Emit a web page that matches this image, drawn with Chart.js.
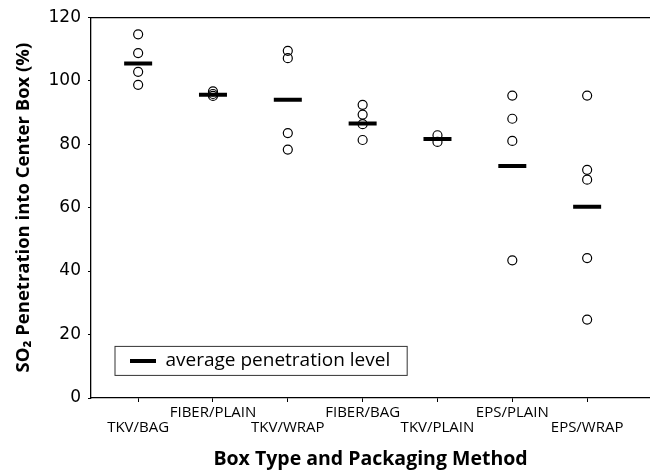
<!DOCTYPE html>
<html>
	<head>
		<meta charset="UTF-8" />
		<title>SO2 penetration into center box</title>
		<style type="text/css">
			body { margin: 0; background: #fff; }
			.chartBox { width: 650px; height: 471px; }
		</style>
	</head>
	<body>
		<div class="chartBox">
			<canvas id="myChart"></canvas>
		</div>
		<script src="https://cdn.jsdelivr.net/npm/chart.js"></script>
		<script>
			//data
			const categories = ['TKV/BAG', 'FIBER/PLAIN', 'TKV/WRAP', 'FIBER/BAG', 'TKV/PLAIN', 'EPS/PLAIN', 'EPS/WRAP'];
			const tkvBag = [114.6, 108.7, 102.8, 98.7];
			const fiberPlain = [96.6, 95.8, 95.2];
			const tkvWrap = [109.4, 107.1, 83.5, 78.3];
			const fiberBag = [92.4, 89.3, 86.3, 81.3];
			const tkvPlain = [82.8, 80.7];
			const epsPlain = [95.3, 88.0, 81.0, 43.4];
			const epsWrap = [95.3, 71.9, 68.8, 44.1, 24.7];
			const averages = [105.4, 95.6, 94.0, 86.5, 81.6, 73.1, 60.3];
			const groups = [tkvBag, fiberPlain, tkvWrap, fiberBag, tkvPlain, epsPlain, epsWrap];

			//setup
			const samplePoints = [];
			groups.forEach((vals, i) => {
				vals.forEach(v => samplePoints.push({x: i + 1, y: v}));
			});
			const averagePoints = averages.map((v, i) => ({x: i + 1, y: v}));

			const data = {
				datasets: [{
					label: 'samples',
					data: samplePoints,
					pointRadius: 4.5,
					pointHoverRadius: 4.5,
					pointBorderWidth: 1.2,
					pointBorderColor: '#000',
					pointBackgroundColor: 'rgba(0,0,0,0)',
					showLine: false,
					order: 0
				}, {
					label: 'average penetration level',
					data: averagePoints,
					pointStyle: 'line',
					pointRadius: 14,
					pointHoverRadius: 14,
					pointBorderWidth: 4,
					pointBorderColor: '#000',
					borderColor: '#000',
					backgroundColor: '#000',
					showLine: false,
					order: 1
				}]
			};

			//frame round the legend entry
			const legendFrame = {
				id: 'legendFrame',
				afterDraw(chart) {
					const box = chart.legend.legendHitBoxes[0];
					if (!box) return;
					const ctx = chart.ctx;
					ctx.save();
					ctx.strokeStyle = '#333';
					ctx.lineWidth = 1;
					ctx.strokeRect(box.left - 15, box.top - 5, box.width + 32, box.height + 10);
					ctx.restore();
				}
			};

			//config
			const config = {
				type: 'scatter',
				data,
				options: {
					responsive: true,
					maintainAspectRatio: false,
					animation: false,
					layout: { autoPadding: false, padding: { top: 16, right: 0, left: 0, bottom: 0 } },
					plugins: {
						tooltip: { enabled: false },
						legend: {
							position: 'chartArea',
							align: 'start',
							title: {
								display: true,
								text: ' ',
								font: { size: 12 },
								padding: { top: 298, bottom: 0 }
							},
							labels: {
								filter: (item) => item.datasetIndex === 1,
								usePointStyle: true,
								pointStyleWidth: 26,
								padding: 39,
								color: '#000',
								font: { family: 'Open Sans', size: 19 }
							}
						}
					},
					scales: {
						x: {
							type: 'linear',
							min: 0.37,
							max: 7.84,
							afterBuildTicks: (scale) => {
								scale.ticks = categories.map((c, i) => ({value: i + 1}));
							},
							afterFit: (scale) => { scale.height = 73; },
							ticks: {
								autoSkip: false,
								maxRotation: 0,
								minRotation: 0,
								padding: 3,
								color: '#000',
								font: { family: 'Open Sans', size: 15, lineHeight: 1.0 },
								callback: (v) => {
									const name = categories[Math.round(v) - 1];
									return (Math.round(v) - 1) % 2 === 0 ? ['', name] : [name];
								}
							},
							grid: { display: true, drawOnChartArea: false, drawTicks: true, tickLength: 4, color: '#000' },
							border: { color: '#000', width: 1.3 },
							title: {
								display: true,
								text: 'Box Type and Packaging Method',
								color: '#000',
								font: { family: 'Open Sans', size: 19.5, weight: 'bold' },
								padding: { top: 0, bottom: 0 }
							}
						},
						x2: {
							type: 'linear',
							position: 'top',
							grid: { display: false, drawTicks: false },
							ticks: { display: false },
							border: { color: '#000', width: 1.3 }
						},
						y: {
							min: 0,
							max: 120,
							afterFit: (scale) => { scale.width = 91; },
							ticks: {
								stepSize: 20,
								padding: 7,
								color: '#000',
								font: { family: 'DejaVu Sans', size: 17 }
							},
							grid: { display: true, drawOnChartArea: false, drawTicks: true, tickLength: 3, color: '#000' },
							border: { color: '#000', width: 1.3 },
							title: {
								display: true,
								text: 'SO\u2082 Penetration into Center Box (%)',
								color: '#000',
								font: { family: 'Open Sans', size: 18.5, weight: 'bold' },
								padding: { top: 13, bottom: 0 }
							}
						}
					}
				},
				plugins: [legendFrame]
			};

			//render init
			const myChart = new Chart(
				document.getElementById('myChart'),
				config
			);
		</script>
	</body>
</html>
